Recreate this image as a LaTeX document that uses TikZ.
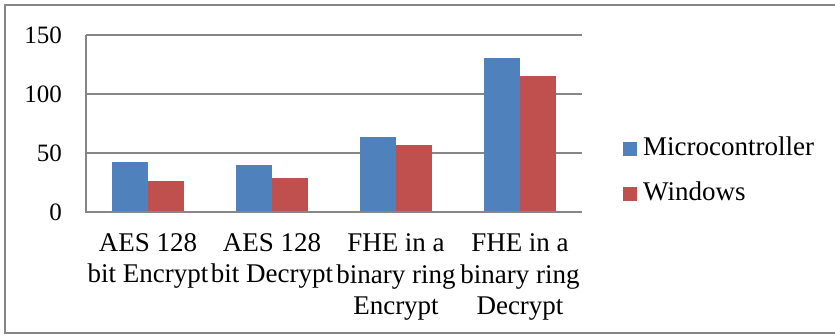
\documentclass[tikz,border=0pt]{standalone}
\usepackage{fontspec}
\setmainfont{Liberation Serif}
\definecolor{mcblue}{HTML}{4F81BD}
\definecolor{winred}{HTML}{C0504D}
\definecolor{gridgray}{HTML}{868686}
\begin{document}
\begin{tikzpicture}[x=1pt,y=1pt,
  ticklbl/.style={anchor=east,inner sep=0pt,font=\fontsize{25}{30}\selectfont},
  catlbl/.style={anchor=base,align=center,inner sep=0pt,font=\fontsize{27}{31.5}\selectfont},
  leglbl/.style={anchor=base west,inner sep=0pt,font=\fontsize{27}{31.5}\selectfont},
  gridln/.style={draw=gridgray,line width=1.5pt}]
\useasboundingbox (0,0) rectangle (835,336);
% frame
\draw [draw=gridgray,line width=1.2pt] (840,331)--(5,331)--(5,3)--(840,3);
% grid
\draw [gridln] (86,183)--(582,183);\draw [gridln] (86,242)--(582,242);
\draw [gridln] (86,301)--(582,301);\draw [gridln] (86,124)--(86,301);
\draw node[ticklbl] (t0) at (62,124) {0};\draw node[ticklbl] (t50) at (62,183) {50};
\draw node[ticklbl] (t100) at (62,242) {100};\draw node[ticklbl] (t150) at (62,301) {150};
% bars
\fill [mcblue] (112,124) rectangle (148,174);\fill [winred] (148,124) rectangle (183.5,155);
\fill [mcblue] (236,124) rectangle (272,171);\fill [winred] (272,124) rectangle (307.5,158);
\fill [mcblue] (360,124) rectangle (396,199);\fill [winred] (396,124) rectangle (431.5,191);
\fill [mcblue] (484,124) rectangle (520,278);\fill [winred] (520,124) rectangle (555.5,260);
\draw [gridln] (85.25,124)--(582,124);
% categories (base = last line)
\draw node[catlbl] (aesenc) at (148,53) {AES 128\\bit Encrypt};
\draw node[catlbl] (aesdec) at (272,53) {AES 128\\bit Decrypt};
\draw node[catlbl] (fheenc) at (396,21) {FHE in a\\binary ring\\Encrypt};
\draw node[catlbl] (fhedec) at (520,21) {FHE in a\\binary ring\\Decrypt};
% legend
\fill [mcblue] (623,180) rectangle (637,194);\draw node[leglbl] (legmc) at (643,180) {Microcontroller};
\fill [winred] (623,135) rectangle (637,149);\draw node[leglbl] (legwin) at (643,135) {Windows};
\end{tikzpicture}
\end{document}
